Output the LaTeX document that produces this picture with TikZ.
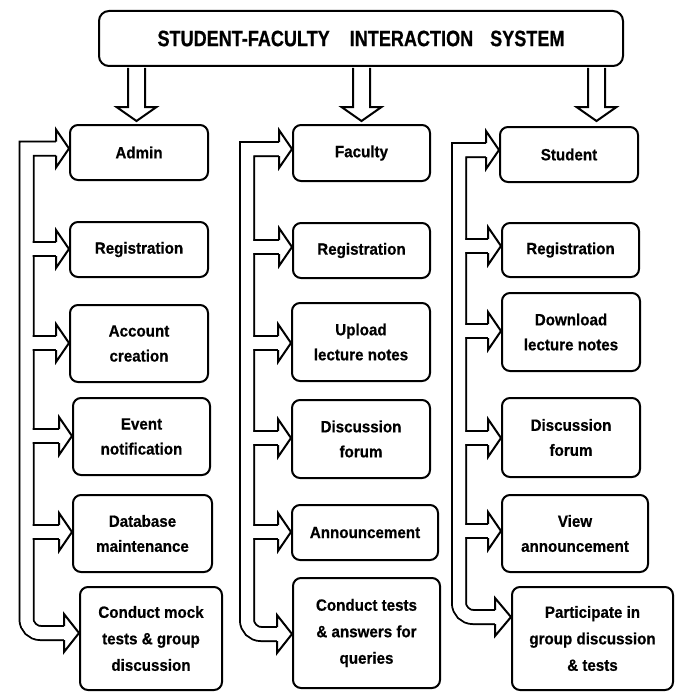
\documentclass[tikz,border=0pt]{standalone}
\usepackage{fontspec}
\setmainfont{Liberation Sans}
\newfontfamily\boxfam[FakeStretch=0.93,FakeBold=0.6]{Liberation Sans}
\newfontfamily\titlefam[FakeStretch=0.81,FakeBold=0.6]{Liberation Sans}
\usetikzlibrary{calc}
\begin{document}
\begin{tikzpicture}[x=1pt,y=-1pt,
  box/.style={draw, line width=2pt, rounded corners=8pt, align=center, inner sep=0pt,
    font=\boxfam\bfseries\fontsize{16.3}{25}\selectfont},
  pipe/.style={line width=2pt, double=white, double distance=12pt},
  pipewhite/.style={draw=white, line width=12pt},
  head/.style={draw=black, fill=white, line width=2pt, line join=miter}]
\useasboundingbox (0,0) rectangle (678,693);

% down arrows from the title
\foreach \cx in {136.5,361.5,596.5}{
  \filldraw[head] (\cx-8.5,68) -- (\cx-8.5,107) -- (\cx-20,107) -- (\cx,121)
     -- (\cx+20,107) -- (\cx+8.5,107) -- (\cx+8.5,68);
}

% title
\node[box, rounded corners=10pt, minimum width=524pt, minimum height=55pt,
  font=\titlefam\bfseries\fontsize{22.3}{26}\selectfont] (title) at (361,38.5)
  {STUDENT-FACULTY\hspace{20pt}INTERACTION\hspace{17pt}SYSTEM};

% column 1
\node[box, minimum width=138pt, minimum height=55pt] (admin) at (139,152.5) {Admin};
\node[box, minimum width=138pt, minimum height=55pt] (reg1) at (139,249.5) {Registration};
\node[box, minimum width=138pt, minimum height=77pt] (acc) at (139,343.5) {Account\\creation};
\node[box, minimum width=137pt, minimum height=77pt] (event) at (141.5,436.5) {Event\\notification};
\node[box, minimum width=139pt, minimum height=77pt] (db) at (142.5,533.5) {Database\\maintenance};
\node[box, minimum width=142pt, minimum height=103pt, font=\boxfam\bfseries\fontsize{16.3}{26.5}\selectfont] (mock) at (151,638.5) {Conduct mock\\tests \& group\\discussion};

% column 2
\node[box, minimum width=137pt, minimum height=56pt] (faculty) at (361.5,153) {Faculty};
\node[box, minimum width=137pt, minimum height=55pt] (reg2) at (361.5,250.5) {Registration};
\node[box, minimum width=138pt, minimum height=78pt] (upload) at (361,342) {Upload\\lecture notes};
\node[box, minimum width=138pt, minimum height=78pt] (disc2) at (361,439) {Discussion\\forum};
\node[box, minimum width=146pt, minimum height=55pt] (ann) at (365,532.5) {Announcement};
\node[box, minimum width=147pt, minimum height=110pt, font=\boxfam\bfseries\fontsize{16.3}{26.5}\selectfont] (tests) at (366.5,633) {Conduct tests\\\& answers for\\queries};

% column 3
\node[box, minimum width=138pt, minimum height=55pt] (student) at (569,154.5) {Student};
\node[box, minimum width=137pt, minimum height=54pt] (reg3) at (570.5,250) {Registration};
\node[box, minimum width=138pt, minimum height=78pt] (download) at (571,332) {Download\\lecture notes};
\node[box, minimum width=138pt, minimum height=79pt] (disc3) at (571,437.5) {Discussion\\forum};
\node[box, minimum width=146pt, minimum height=77pt] (view) at (575,533.5) {View\\announcement};
\node[box, minimum width=161pt, minimum height=103pt, font=\boxfam\bfseries\fontsize{16.3}{26.5}\selectfont] (part) at (592.5,638.5) {Participate in\\group discussion\\\& tests};

% trunk end points (head bases) and tips
\coordinate (t1a) at ($(admin.west |- 0,148.5)+(-13,0)$);
\coordinate (t1b) at ($(mock.west |- 0,633)+(-15,0)$);
\coordinate (t2a) at ($(faculty.west |- 0,149)+(-13,0)$);
\coordinate (t2b) at ($(tests.west |- 0,634)+(-15,0)$);
\coordinate (t3a) at ($(student.west |- 0,150)+(-13,0)$);
\coordinate (t3b) at ($(part.west |- 0,617)+(-16,0)$);

% trunks
\draw[pipe] (t1a) -- (26.5,148.5) -- (26.5,500) [rounded corners=14pt] -- (26.5,633) -- (t1b);
\draw[pipe] (t2a) -- (247,149) -- (247,500) [rounded corners=14pt] -- (247,634) -- (t2b);
\draw[pipe] (t3a) -- (459,150) -- (459,500) [rounded corners=14pt] -- (459,617) -- (t3b);

% branches
\foreach \n/\y in {reg1/249, acc/343, event/436, db/532}
  \draw[pipe] (26.5,\y) -- ($(\n.west |- 0,\y)+(-13,0)$);
\foreach \n/\y in {reg2/247, upload/343, disc2/438, ann/532}
  \draw[pipe] (247,\y) -- ($(\n.west |- 0,\y)+(-13,0)$);
\foreach \n/\y in {reg3/246, download/331, disc3/438, view/531}
  \draw[pipe] (459,\y) -- ($(\n.west |- 0,\y)+(-13,0)$);

% clear trunk interiors
\draw[pipewhite] (t1a) -- (26.5,148.5) -- (26.5,500) [rounded corners=14pt] -- (26.5,633) -- (t1b);
\draw[pipewhite] (t2a) -- (247,149) -- (247,500) [rounded corners=14pt] -- (247,634) -- (t2b);
\draw[pipewhite] (t3a) -- (459,150) -- (459,500) [rounded corners=14pt] -- (459,617) -- (t3b);

% arrow heads
\foreach \n/\y in {admin/148.5, reg1/249, acc/343, event/436, db/532,
                   faculty/149, reg2/247, upload/343, disc2/438, ann/532,
                   student/150, reg3/246, download/331, disc3/438, view/531}
  \filldraw[head] ($(\n.west |- 0,\y)+(-13,-7)$) -- ++(0,-12) -- (\n.west |- 0,\y)
     -- ++(-13,19) -- ++(0,-12);
\foreach \n/\y/\l in {mock/633/15, tests/634/15, part/617/16}
  \filldraw[head] ($(\n.west |- 0,\y)+(-\l,-7)$) -- ++(0,-12) -- (\n.west |- 0,\y)
     -- ++(-\l,19) -- ++(0,-12);
\end{tikzpicture}
\end{document}
